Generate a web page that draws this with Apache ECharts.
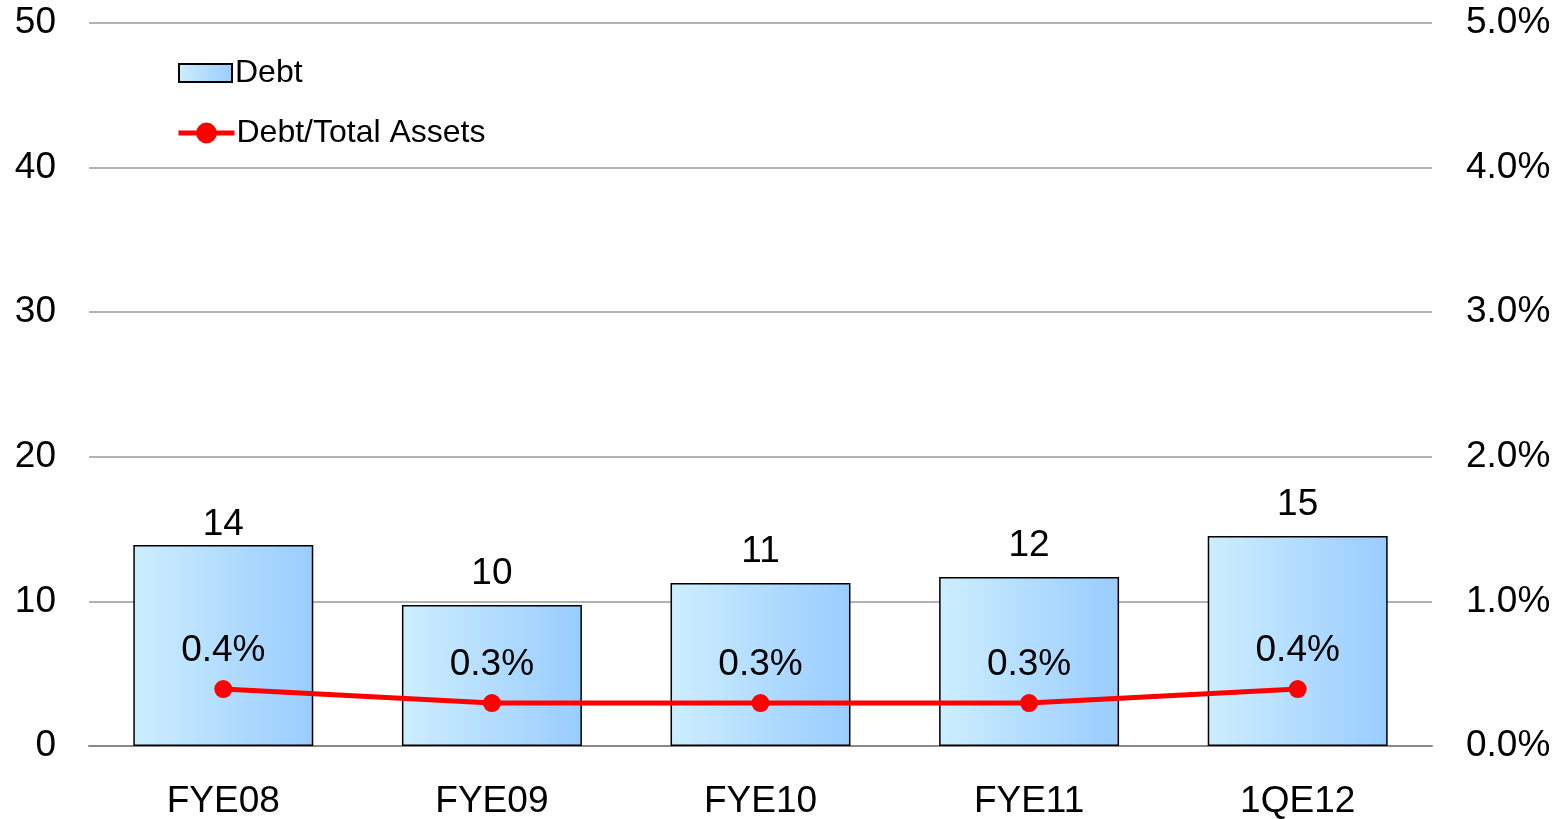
<!DOCTYPE html>
<html><head><meta charset="utf-8">
<script src="https://cdn.jsdelivr.net/npm/echarts@6/dist/echarts.min.js"></script>
<style>html,body{margin:0;padding:0;background:#fff}#c{width:1566px;height:819px}</style>
</head><body><div id="c"></div>
<script>
const categories = ['FYE08','FYE09','FYE10','FYE11','1QE12'];
const debt = [13.9, 9.75, 11.27, 11.69, 14.52];
const debtRatio = [0.394, 0.297, 0.297, 0.297, 0.394];
const leftTicks = [0, 10, 20, 30, 40, 50];
const rightTicks = [0, 1, 2, 3, 4, 5];

const FONT = 'Liberation Sans, Arial, sans-serif';
const chart = echarts.init(document.getElementById('c'), null, {renderer:'canvas'});
chart.setOption({
  animation:false,
  backgroundColor:'#fff',
  textStyle:{fontFamily:FONT},
  grid:{left:89, right:134, top:23, bottom:73, containLabel:false, outerBoundsMode:'none'},
  legend:[{
    left:173, top:52, itemWidth:53, itemHeight:18,
    textStyle:{fontSize:32, color:'#000', fontFamily:FONT, padding:[0,0,0,-2]},
    data:[{name:'Debt', icon:'rect'}]
  },{
    left:171, top:112, itemWidth:56, itemHeight:26,
    textStyle:{fontSize:32, color:'#000', fontFamily:FONT, padding:[0,0,0,-3]},
    data:[{name:'Debt/Total Assets', lineStyle:{width:5}}]
  }],
  xAxis:{
    type:'category', data:categories,
    axisLine:{show:true, lineStyle:{color:'#888', width:2}},
    axisTick:{show:false},
    axisLabel:{fontSize:37, color:'#000', margin:37, fontFamily:FONT}
  },
  yAxis:[{
    type:'value', min:leftTicks[0], max:leftTicks[leftTicks.length-1], interval:10,
    axisLine:{show:false}, axisTick:{show:false},
    splitLine:{lineStyle:{color:'#999', width:1.5}},
    axisLabel:{fontSize:37, color:'#000', margin:33, fontFamily:FONT, padding:[4,0,0,0]}
  },{
    type:'value', min:rightTicks[0], max:rightTicks[rightTicks.length-1], interval:1,
    axisLine:{show:false}, axisTick:{show:false}, splitLine:{show:false},
    axisLabel:{fontSize:37, color:'#000', margin:34, fontFamily:FONT, padding:[4,0,0,0],
      formatter:v=>v.toFixed(1)+'%'}
  }],
  series:[{
    name:'Debt', type:'bar', barWidth:'67%',
    data:debt.map((v,i)=> i===0 ? {value:v, label:{distance:2}} : v),
    itemStyle:{
      color:new echarts.graphic.LinearGradient(0,0,1,0,[{offset:0,color:'#CDEEFF'},{offset:1,color:'#99CCFF'}]),
      borderColor:'#000', borderWidth:1.5
    },
    label:{show:true, position:'top', distance:13, fontSize:37, color:'#000', fontFamily:FONT,
      formatter:p=>Math.round(p.value).toString()}
  },{
    name:'Debt/Total Assets', type:'line', yAxisIndex:1, data:debtRatio,
    symbol:'circle', symbolSize:18,
    lineStyle:{color:'#FF0000', width:5}, itemStyle:{color:'#FF0000'},
    label:{show:true, position:'top', distance:11, fontSize:37, color:'#000', fontFamily:FONT,
      formatter:p=>p.value.toFixed(1)+'%'},
    z:5
  }]
});
</script></body></html>
